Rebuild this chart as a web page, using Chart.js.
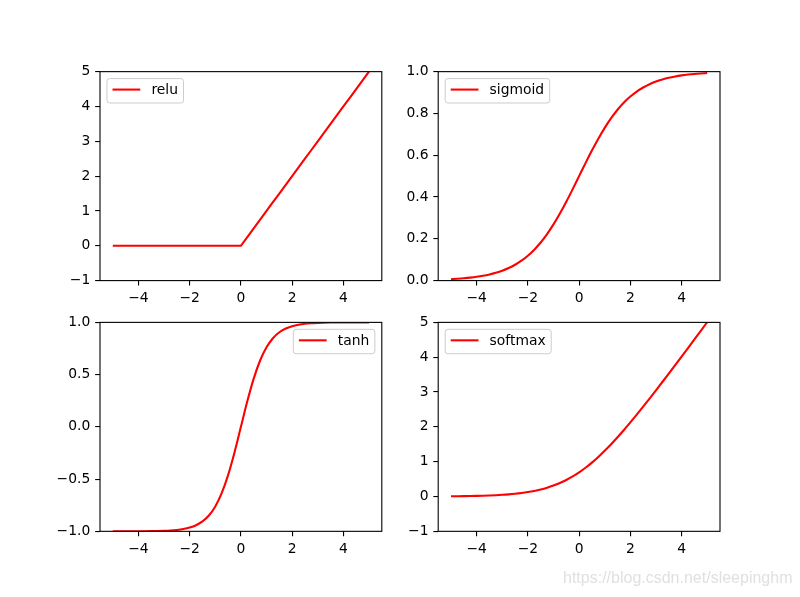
<!DOCTYPE html>
<html><head><meta charset="utf-8">
<script src="https://cdn.jsdelivr.net/npm/chart.js@4/dist/chart.umd.min.js"></script>
<style>
html,body{margin:0;padding:0;background:#fff;}
#wrap{position:relative;width:800px;height:597px;overflow:hidden;background:#fff;}
canvas{position:absolute;left:0;top:0;}
#wm{position:absolute;left:563px;top:570px;font-family:"Liberation Sans",Arial,sans-serif;font-size:16px;line-height:16px;color:#e0e0e0;white-space:nowrap;}
</style></head><body>
<div id="wrap">
<canvas id="c1" width="800" height="597"></canvas>
<canvas id="c2" width="800" height="597"></canvas>
<canvas id="c3" width="800" height="597"></canvas>
<canvas id="c4" width="800" height="597"></canvas>
<div id="wm">https://blog.csdn.net/sleepinghm</div>
</div>
<script>
const xValues = [-5,-4.75,-4.5,-4.25,-4,-3.75,-3.5,-3.25,-3,-2.75,-2.5,-2.25,-2,-1.75,-1.5,-1.25,-1,-0.75,-0.5,-0.25,0,
  0.25,0.5,0.75,1,1.25,1.5,1.75,2,2.25,2.5,2.75,3,3.25,3.5,3.75,4,4.25,4.5,4.75,5];
const reluValues = [0,0,0,0,0,0,0,0,0,0,0,0,0,0,0,0,0,0,0,0,0,
  0.25,0.5,0.75,1,1.25,1.5,1.75,2,2.25,2.5,2.75,3,3.25,3.5,3.75,4,4.25,4.5,4.75,5];
const sigmoidValues = [0.0067,0.0086,0.0110,0.0141,0.0180,0.0230,0.0293,0.0374,0.0474,0.0601,0.0759,0.0953,0.1192,0.1480,0.1824,0.2227,0.2689,0.3208,0.3775,0.4378,0.5,
  0.5622,0.6225,0.6792,0.7311,0.7773,0.8176,0.8520,0.8808,0.9047,0.9241,0.9399,0.9526,0.9626,0.9707,0.9770,0.9820,0.9859,0.9890,0.9914,0.9933];
const tanhValues = [-0.9999,-0.9999,-0.9998,-0.9996,-0.9993,-0.9989,-0.9982,-0.9970,-0.9951,-0.9919,-0.9866,-0.9780,-0.9640,-0.9414,-0.9051,-0.8483,-0.7616,-0.6351,-0.4621,-0.2449,0,
  0.2449,0.4621,0.6351,0.7616,0.8483,0.9051,0.9414,0.9640,0.9780,0.9866,0.9919,0.9951,0.9970,0.9982,0.9989,0.9993,0.9996,0.9998,0.9999,0.9999];
const softmaxValues = [0.0067,0.0086,0.0110,0.0141,0.0181,0.0233,0.0298,0.0381,0.0486,0.0620,0.0789,0.1002,0.1269,0.1602,0.2014,0.2519,0.3133,0.3869,0.4741,0.5759,0.6931,
  0.8259,0.9741,1.1369,1.3133,1.5019,1.7014,1.9102,2.1269,2.3502,2.5789,2.8120,3.0486,3.2881,3.5298,3.7733,4.0181,4.2641,4.5110,4.7586,5.0067];

const xTicks = [-4,-2,0,2,4];
const reluTicks = [-1,0,1,2,3,4,5];
const sigmoidTicks = [0,0.2,0.4,0.6,0.8,1.0];
const tanhTicks = [-1,-0.5,0,0.5,1];
const softmaxTicks = [-1,0,1,2,3,4,5];

const FS = 13.89;
const FONT = 'DejaVu Sans';
const YW = 60, XH = 35;

function fmt(v, d){
  const s = Math.abs(v).toFixed(d);
  return v < -1e-9 ? '\u2212' + s : s;
}

const mplPlugin = {
  id: 'mpl',
  afterDatasetsDraw(chart, args, opts){
    const ctx = chart.ctx, a = chart.chartArea;
    ctx.save();
    ctx.strokeStyle = '#000';
    ctx.lineWidth = 1.1;
    ctx.strokeRect(a.left, a.top, a.right - a.left, a.bottom - a.top);
    // legend
    const label = opts.label;
    ctx.font = FS + 'px "' + FONT + '"';
    const tw = ctx.measureText(label).width;
    const pad = 0.4 * FS, hl = 2 * FS, htp = 0.8 * FS, bap = 0.5 * FS;
    const w = pad + hl + htp + tw + pad;
    const h = 24.4;
    const x0 = opts.loc === 'ur' ? a.right - bap - w : a.left + bap;
    const y0 = a.top + bap;
    ctx.beginPath();
    if (ctx.roundRect) ctx.roundRect(x0, y0, w, h, 2.8); else ctx.rect(x0, y0, w, h);
    ctx.fillStyle = 'rgba(255,255,255,0.8)';
    ctx.fill();
    ctx.strokeStyle = '#cccccc';
    ctx.lineWidth = 1;
    ctx.stroke();
    ctx.beginPath();
    ctx.moveTo(x0 + pad, y0 + 11);
    ctx.lineTo(x0 + pad + hl, y0 + 11);
    ctx.strokeStyle = '#ff0000';
    ctx.lineWidth = 2.08;
    ctx.stroke();
    ctx.fillStyle = '#000';
    ctx.textBaseline = 'alphabetic';
    ctx.textAlign = 'left';
    ctx.fillText(label, x0 + pad + hl + htp, y0 + 15.2);
    ctx.restore();
  }
};

function tickGrid(){
  return {display:true, drawOnChartArea:false, drawTicks:true, tickLength:4.86, tickWidth:1.1, tickColor:'#000', lineWidth:1.1, color:'#000'};
}

function makeChart(id, yVals, label, yMin, yMax, yTicks, yDec, loc, rect, tension){
  const [L, T, R, B] = rect;
  return new Chart(document.getElementById(id), {
    type: 'line',
    data: {
      datasets: [{
        label: label,
        data: xValues.map((x, i) => ({x: x, y: yVals[i]})),
        borderColor: '#ff0000',
        borderWidth: 2.08,
        pointRadius: 0,
        fill: false,
        tension: 0,
        cubicInterpolationMode: tension ? 'monotone' : 'default',
        clip: 0
      }]
    },
    options: {
      responsive: false,
      animation: false,
      devicePixelRatio: 1,
      events: [],
      layout: {padding: {left: L - YW, top: T, right: 800 - R, bottom: 597 - B - XH}},
      plugins: {legend: {display: false}, tooltip: {enabled: false}, mpl: {label: label, loc: loc}},
      scales: {
        x: {
          type: 'linear', min: -5.5, max: 5.5, position: 'bottom',
          afterBuildTicks: s => { s.ticks = xTicks.map(v => ({value: v})); },
          afterFit: s => { s.height = XH; },
          grid: tickGrid(),
          border: {display: false},
          ticks: {padding: 4.86, maxRotation: 0, autoSkip: false, color: '#000', font: {family: FONT, size: FS},
            callback: v => fmt(v, 0)}
        },
        y: {
          type: 'linear', min: yMin, max: yMax, position: 'left',
          afterBuildTicks: s => { s.ticks = yTicks.map(v => ({value: v})); },
          afterFit: s => { s.width = YW; },
          grid: tickGrid(),
          border: {display: false},
          ticks: {padding: 4.86, autoSkip: false, color: '#000', font: {family: FONT, size: FS},
            callback: v => fmt(v, yDec)}
        }
      }
    },
    plugins: [mplPlugin]
  });
}

const LC = [100, 381.8], RC = [438.2, 720];
const TR = [71.64, 280.59], BR = [322.38, 531.33];

makeChart('c1', reluValues, 'relu', -1, 5, reluTicks, 0, 'ul', [LC[0], TR[0], LC[1], TR[1]], false);
makeChart('c2', sigmoidValues, 'sigmoid', 0, 1, sigmoidTicks, 1, 'ul', [RC[0], TR[0], RC[1], TR[1]], true);
makeChart('c3', tanhValues, 'tanh', -1, 1, tanhTicks, 1, 'ur', [LC[0], BR[0], LC[1], BR[1]], true);
makeChart('c4', softmaxValues, 'softmax', -1, 5, softmaxTicks, 0, 'ul', [RC[0], BR[0], RC[1], BR[1]], true);
</script>
</body></html>
